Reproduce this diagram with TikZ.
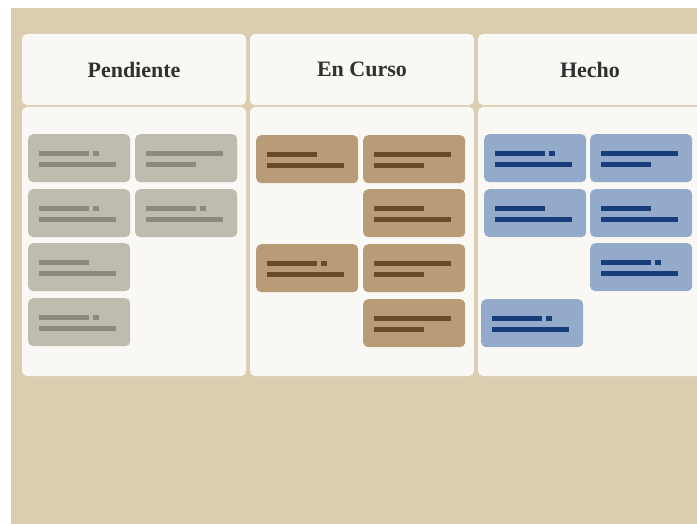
\documentclass[tikz,border=0pt]{standalone}
\usepackage{fontspec}
\newfontfamily\headfont{Liberation Serif}
\definecolor{boardbg}{HTML}{DBCDB0}
\definecolor{panelbg}{HTML}{FAF8F4}
\definecolor{headtext}{HTML}{2B3230}
\definecolor{grayfill}{HTML}{BDBCAF}
\definecolor{graybar}{HTML}{8B8A7C}
\definecolor{brownfill}{HTML}{B89B77}
\definecolor{brownbar}{HTML}{6B4A27}
\definecolor{bluefill}{HTML}{93AACB}
\definecolor{bluebar}{HTML}{173E7A}
\tikzset{
  headbox/.style={fill=panelbg, rounded corners=5pt, minimum width=224pt, minimum height=71pt,
    inner sep=0pt, font=\headfont\bfseries\fontsize{22}{25}\selectfont, text=headtext},
  bodybox/.style={fill=panelbg, rounded corners=5pt, minimum width=224pt, minimum height=269pt, inner sep=0pt},
  card/.style={rounded corners=5pt, minimum width=102pt, minimum height=48pt, inner sep=0pt, anchor=north west},
  graybar/.style={fill=graybar},
  brownbar/.style={fill=brownbar},
  bluebar/.style={fill=bluebar},
}
% text placeholder bars inside a card (coordinates from its top left corner)
\newcommand\patA{\path (11,17) rectangle ++(50,5); \path (65,17) rectangle ++(6,5); \path (11,28) rectangle ++(77,5);}
\newcommand\patB{\path (11,17) rectangle ++(77,5); \path (11,28) rectangle ++(50,5);}
\newcommand\patC{\path (11,17) rectangle ++(50,5); \path (11,28) rectangle ++(77,5);}
% card: name, x, y, colour prefix, pattern letter
\newcommand\kcard[5]{%
  \node[card, fill=#4fill] (#1) at (#2,#3) {};
  \begin{scope}[shift={(#2,#3)}, every path/.style={#4bar}]
    \csname pat#5\endcsname
  \end{scope}}
\begin{document}
\begin{tikzpicture}[x=1pt, y=-1pt]
  \useasboundingbox (0,0) rectangle (697,524);
  \fill[white] (0,0) rectangle (697,524);
  \clip (0,0) rectangle (697,524);
  \fill[boardbg] (11,8) rectangle (697,524);

  % column headers
  \node[headbox] (h1) at (134,69.5) {Pendiente};
  \node[headbox] (h2) at (362,69.5) {En Curso};
  \node[headbox] (h3) at (590,69.5) {Hecho};

  % column bodies
  \node[bodybox] (b1) at (134,241.5) {};
  \node[bodybox] (b2) at (362,241.5) {};
  \node[bodybox] (b3) at (590,241.5) {};

  % Pendiente
  \kcard{p1}{28}{134}{gray}{A}
  \kcard{p2}{135}{134}{gray}{B}
  \kcard{p3}{28}{189}{gray}{A}
  \kcard{p4}{135}{189}{gray}{A}
  \kcard{p5}{28}{243}{gray}{C}
  \kcard{p6}{28}{298}{gray}{A}

  % En Curso
  \kcard{c1}{256}{135}{brown}{C}
  \kcard{c2}{363}{135}{brown}{B}
  \kcard{c3}{363}{189}{brown}{C}
  \kcard{c4}{256}{244}{brown}{A}
  \kcard{c5}{363}{244}{brown}{B}
  \kcard{c6}{363}{299}{brown}{B}

  % Hecho
  \kcard{d1}{484}{134}{blue}{A}
  \kcard{d2}{590}{134}{blue}{B}
  \kcard{d3}{484}{189}{blue}{C}
  \kcard{d4}{590}{189}{blue}{C}
  \kcard{d5}{590}{243}{blue}{A}
  \kcard{d6}{481}{299}{blue}{A}
\end{tikzpicture}
\end{document}
